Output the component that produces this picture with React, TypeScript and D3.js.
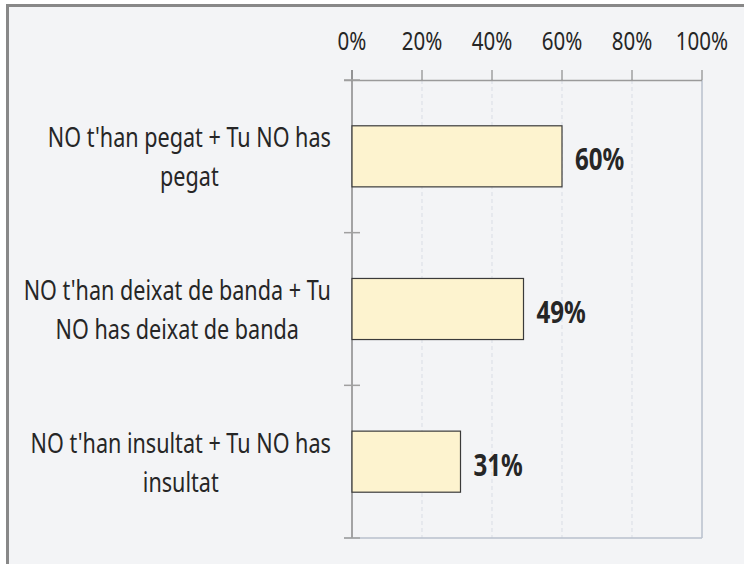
import React from 'react';
import * as d3 from 'd3';

// categories shown on the y axis (already broken into two lines, as in the original)
const categories = [
  "NO t'han pegat + Tu NO has pegat",
  "NO t'han deixat de banda + Tu NO has deixat de banda",
  "NO t'han insultat + Tu NO has insultat",
];
const categoryLines = [
  ["NO t'han pegat + Tu NO has", 'pegat'],
  ["NO t'han deixat de banda + Tu", 'NO has deixat de banda'],
  ["NO t'han insultat + Tu NO has", 'insultat'],
];
const values = [60, 49, 31];
const xTicks = [0, 20, 40, 60, 80, 100];

const W = 744;
const H = 564;
const FONT = '"Noto Sans", "Open Sans", sans-serif';
const SX = 0.79; // the original text is horizontally squeezed
const SX_CAT = 0.815;
const CAT_SIZE = 26.5;
const LABEL_RIGHT = 331;

// width of a string in the category font, squeezed like the drawing
const measure = (() => {
  let ctx: CanvasRenderingContext2D | null = null;
  return (s: string) => {
    if (!ctx) ctx = document.createElement('canvas').getContext('2d');
    if (!ctx) return s.length * 12;
    ctx.font = `${CAT_SIZE}px ${FONT}`;
    return ctx.measureText(s).width * SX_CAT;
  };
})();

const App: React.FC = () => {
  const x = d3.scaleLinear().domain([0, 100]).range([352, 702]);
  const y = d3.scaleBand<string>().domain(categories).range([80, 538]).paddingInner(0).paddingOuter(0);
  const band = y.bandwidth();
  const barH = band * 0.4;
  const bounds = d3.range(categories.length + 1).map(i => 80 + i * band);

  return (
    <svg width={W} height={H} style={{ position: 'absolute', left: 0, top: 0, display: 'block' }}>
      <rect x={0} y={0} width={W} height={H} fill="#ffffff" />
      <rect x={7.5} y={5.5} width={W + 20} height={H + 20} fill="#f3f4f6" stroke="#888888" strokeWidth={3} />

      {/* grid */}
      {xTicks.slice(1, -1).map(t => (
        <line key={'g' + t} x1={x(t)} x2={x(t)} y1={80} y2={538} stroke="#d9dde5" strokeDasharray="4,3" strokeWidth={1} />
      ))}
      <line x1={702} x2={702} y1={80} y2={538} stroke="#b9c0cc" strokeWidth={1.5} />
      <line x1={344} x2={702} y1={538} y2={538} stroke="#b9c0cc" strokeWidth={1.5} />

      {/* top axis */}
      <line x1={344} x2={702} y1={80.5} y2={80.5} stroke="#9a9a9a" strokeWidth={1.5} />
      {xTicks.map(t => (
        <g key={'t' + t}>
          <line x1={x(t)} x2={x(t)} y1={70} y2={80} stroke="#777777" strokeWidth={1} />
          <text transform={`translate(${x(t)},49.5) scale(${SX},1)`} textAnchor="middle" fontFamily={FONT} fontSize={26} fill="#262626">
            {t + '%'}
          </text>
        </g>
      ))}

      {/* left axis */}
      <line x1={352} x2={352} y1={70} y2={538} stroke="#888888" strokeWidth={1.5} />
      {bounds.map((b, i) => (
        <line key={'b' + i} x1={344} x2={360} y1={b} y2={b} stroke="#a0a0a0" strokeWidth={1.5} />
      ))}

      {/* bars */}
      {categories.map((c, i) => {
        const cy = (y(c) ?? 0) + band / 2;
        const widest = d3.max(categoryLines[i], measure) ?? 0;
        const cx = LABEL_RIGHT - widest / 2;
        return (
          <g key={c}>
            <rect x={x(0)} y={cy - barH / 2} width={x(values[i]) - x(0)} height={barH} fill="#fdf3cf" stroke="#3a3a3a" strokeWidth={1.2} />
            <text transform={`translate(${x(values[i]) + 13},${cy + 14}) scale(${SX},1)`} fontFamily={FONT} fontSize={30.5} fontWeight="bold" fill="#262626">
              {values[i] + '%'}
            </text>
            {categoryLines[i].map((line, k) => (
              <text key={k} transform={`translate(${cx},${cy - 9 + k * 39}) scale(${SX_CAT},1)`} textAnchor="middle" fontFamily={FONT} fontSize={CAT_SIZE} fill="#262626">
                {line}
              </text>
            ))}
          </g>
        );
      })}
    </svg>
  );
};

export default App;
